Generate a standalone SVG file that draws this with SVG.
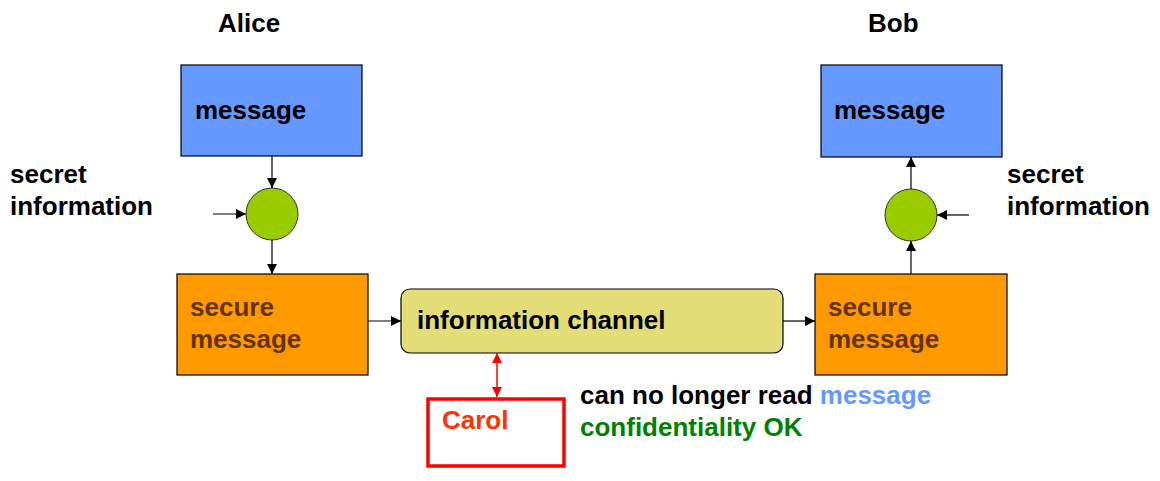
<svg xmlns="http://www.w3.org/2000/svg" width="1160" height="481" viewBox="0 0 1160 481">
<style>
text{font-family:"Liberation Sans",Arial,sans-serif;font-weight:bold;font-size:26px;fill:#000}
.msg{fill:#6699ff;stroke:#000;stroke-width:1.2}
.sec{fill:#ff9900;stroke:#000;stroke-width:1.2}
.op{fill:#99cc00;stroke:#333;stroke-width:1}
.brown{fill:#663300}
.ln{stroke:#000;stroke-width:1.2;fill:none}
</style>
<defs>
<marker id="ah" viewBox="0 0 10 10" refX="10" refY="5" markerWidth="10" markerHeight="10" markerUnits="userSpaceOnUse" orient="auto"><path d="M0,0 L10,5 L0,10 z" fill="#000"/></marker>
<marker id="rh" viewBox="0 0 10 10" refX="10" refY="5" markerWidth="10" markerHeight="10" markerUnits="userSpaceOnUse" orient="auto-start-reverse"><path d="M0,0 L10,5 L0,10 z" fill="#ff0000"/></marker>
</defs>
<text x="218" y="32">Alice</text>
<text x="868" y="32">Bob</text>
<text x="10" y="183">secret</text>
<text x="10" y="215">information</text>
<text x="1007" y="183">secret</text>
<text x="1007" y="215">information</text>
<g id="alice-message"><rect class="msg" x="181" y="65" width="181" height="91"/><text x="195" y="119">message</text></g>
<g id="alice-op"><circle class="op" cx="272" cy="214" r="26"/></g>
<g id="alice-secure"><rect class="sec" x="177" y="274" width="191" height="101"/><text class="brown" x="190" y="316">secure</text><text class="brown" x="190" y="348">message</text></g>
<g id="channel"><rect x="401" y="289" width="382" height="64" rx="9" fill="#e3dd77" stroke="#000" stroke-width="1.2"/><text x="417" y="329">information channel</text></g>
<g id="bob-secure"><rect class="sec" x="815" y="274" width="192" height="101"/><text class="brown" x="828" y="316">secure</text><text class="brown" x="828" y="348">message</text></g>
<g id="bob-op"><circle class="op" cx="911" cy="215" r="26"/></g>
<g id="bob-message"><rect class="msg" x="821" y="65" width="181" height="92"/><text x="834" y="119">message</text></g>
<g id="carol"><rect x="428" y="399" width="136" height="67" fill="#fff" stroke="#ff0000" stroke-width="3.5"/><text x="442" y="429" style="fill:#ff3300">Carol</text></g>
<text x="580" y="404">can no longer read <tspan style="fill:#6699ff">message</tspan></text>
<text x="580" y="436" style="fill:#008000">confidentiality OK</text>
<g id="connectors">
<line class="ln" x1="272" y1="156" x2="272" y2="188" marker-end="url(#ah)"/>
<line class="ln" x1="213" y1="214" x2="246" y2="214" marker-end="url(#ah)"/>
<line class="ln" x1="272" y1="240" x2="272" y2="274" marker-end="url(#ah)"/>
<line class="ln" x1="368" y1="321" x2="401" y2="321" marker-end="url(#ah)"/>
<line class="ln" x1="783" y1="321" x2="815" y2="321" marker-end="url(#ah)"/>
<line class="ln" x1="911" y1="274" x2="911" y2="241" marker-end="url(#ah)"/>
<line class="ln" x1="911" y1="189" x2="911" y2="157" marker-end="url(#ah)"/>
<line class="ln" x1="969" y1="215" x2="937" y2="215" marker-end="url(#ah)"/>
<line x1="497" y1="353" x2="497" y2="397" stroke="#ff0000" stroke-width="1.5" marker-start="url(#rh)" marker-end="url(#rh)"/>
</g>
</svg>
